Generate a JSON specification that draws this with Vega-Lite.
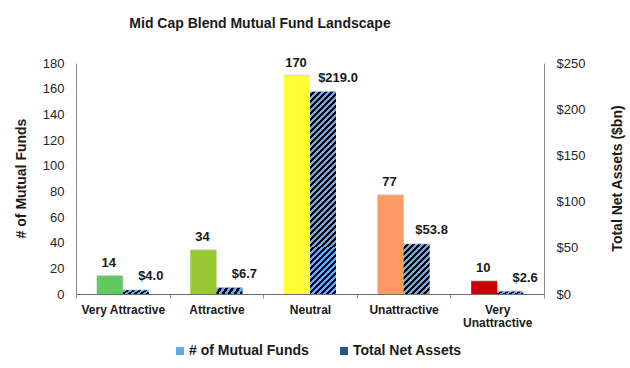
{
  "$schema": "https://vega.github.io/schema/vega-lite/v6.json",
  "width": 468,
  "height": 231,
  "autosize": "none",
  "padding": {"left": 76, "top": 63, "right": 86, "bottom": 74},
  "config": {
    "font": "Liberation Sans",
    "view": {"stroke": null},
    "axis": {"grid": false, "domainColor": "#8c8c8c", "tickColor": "#8c8c8c", "labelColor": "#262626", "titleColor": "#1a1a1a"}
  },
  "title": {
    "text": "Mid Cap Blend Mutual Fund Landscape",
    "fontSize": 14,
    "fontWeight": "bold",
    "color": "#1a1a1a",
    "anchor": "middle",
    "frame": "group",
    "baseline": "bottom",
    "offset": 12,
    "dx": -50
  },
  "data": {
    "values": [
      {"category": "Very Attractive", "series": "# of Mutual Funds", "value": 14},
      {"category": "Attractive", "series": "# of Mutual Funds", "value": 34},
      {"category": "Neutral", "series": "# of Mutual Funds", "value": 170},
      {"category": "Unattractive", "series": "# of Mutual Funds", "value": 77},
      {"category": "Very Unattractive", "series": "# of Mutual Funds", "value": 10},
      {"category": "Very Attractive", "series": "Total Net Assets", "value": 4.0},
      {"category": "Attractive", "series": "Total Net Assets", "value": 6.7},
      {"category": "Neutral", "series": "Total Net Assets", "value": 219.0},
      {"category": "Unattractive", "series": "Total Net Assets", "value": 53.8},
      {"category": "Very Unattractive", "series": "Total Net Assets", "value": 2.6}
    ]
  },
  "encoding": {
    "x": {
      "field": "category",
      "type": "nominal",
      "sort": ["Very Attractive", "Attractive", "Neutral", "Unattractive", "Very Unattractive"],
      "scale": {"paddingInner": 0, "paddingOuter": 0},
      "axis": {
        "title": null,
        "labelAngle": 0,
        "labelFontSize": 12,
        "labelFontWeight": "bold",
        "labelColor": "#1a1a1a",
        "labelPadding": 6,
        "labelBaseline": "top",
        "labelLineHeight": 13,
        "tickBand": "extent",
        "tickSize": 4,
        "domainColor": "#6e6e6e",
        "labelExpr": "datum.label == 'Very Unattractive' ? ['Very', 'Unattractive'] : datum.label"
      }
    },
    "xOffset": {
      "field": "series",
      "type": "nominal",
      "sort": ["# of Mutual Funds", "Total Net Assets"],
      "scale": {"domain": ["# of Mutual Funds", "Total Net Assets"], "paddingOuter": 0.8, "paddingInner": 0}
    }
  },
  "layer": [
    {
      "transform": [{"filter": "datum.series === '# of Mutual Funds'"}],
      "encoding": {
        "y": {
          "field": "value",
          "type": "quantitative",
          "scale": {"domain": [0, 180], "nice": false},
          "axis": {
            "orient": "left",
            "values": [0, 20, 40, 60, 80, 100, 120, 140, 160, 180],
            "ticks": false,
            "labelPadding": 12,
            "labelFontSize": 13,
            "title": "# of Mutual Funds",
            "titleFontSize": 14,
            "titleFontWeight": "bold",
            "titleAngle": -90,
            "titleX": -55,
            "titleY": 115,
            "titleAlign": "center",
            "titleBaseline": "middle"
          }
        }
      },
      "layer": [
        {"mark": {"type": "bar", "color": "#a8a8a8", "opacity": 0.5, "xOffset": 3, "yOffset": -1}},
        {
          "mark": {"type": "bar"},
          "encoding": {
            "color": {
              "field": "category",
              "type": "nominal",
              "scale": {
                "domain": ["Very Attractive", "Attractive", "Neutral", "Unattractive", "Very Unattractive"],
                "range": ["#62c962", "#99c832", "#ffff33", "#ff9966", "#cc0000"]
              },
              "legend": null
            }
          }
        },
        {
          "mark": {"type": "text", "fontSize": 13, "fontWeight": "bold", "color": "#1a1a1a", "baseline": "alphabetic", "dy": -9, "dx": -1},
          "encoding": {"text": {"field": "value", "type": "quantitative", "format": "d"}}
        }
      ]
    },
    {
      "transform": [{"filter": "datum.series === 'Total Net Assets'"}],
      "encoding": {
        "y": {
          "field": "value",
          "type": "quantitative",
          "scale": {"domain": [0, 250], "nice": false},
          "axis": {
            "orient": "right",
            "values": [0, 50, 100, 150, 200, 250],
            "format": "$.0f",
            "ticks": false,
            "labelPadding": 12,
            "labelFontSize": 13,
            "title": "Total Net Assets ($bn)",
            "titleFontSize": 14,
            "titleFontWeight": "bold",
            "titleAngle": -90,
            "titleX": 73,
            "titleY": 115,
            "titleAlign": "center",
            "titleBaseline": "middle"
          }
        }
      },
      "layer": [
        {"mark": {"type": "bar", "color": "#a8a8a8", "opacity": 0.5, "xOffset": 3, "yOffset": -1}},
        {
          "mark": {"type": "bar"},
          "encoding": {
            "fill": {
              "condition": [
                {"test": "datum.category === 'Neutral'", "value": {"gradient": "linear", "x1": 0, "y1": 0, "x2": 0.1487, "y2": 1.1621, "stops": [
                  {"offset": 0, "color": "#64aaff"}, {"offset": 0.0125, "color": "#64aaff"}, {"offset": 0.0125, "color": "#000"}, {"offset": 0.025, "color": "#000"},
                  {"offset": 0.025, "color": "#64aaff"}, {"offset": 0.0375, "color": "#64aaff"}, {"offset": 0.0375, "color": "#000"}, {"offset": 0.05, "color": "#000"},
                  {"offset": 0.05, "color": "#64aaff"}, {"offset": 0.0625, "color": "#64aaff"}, {"offset": 0.0625, "color": "#000"}, {"offset": 0.075, "color": "#000"},
                  {"offset": 0.075, "color": "#64aaff"}, {"offset": 0.0875, "color": "#64aaff"}, {"offset": 0.0875, "color": "#000"}, {"offset": 0.1, "color": "#000"},
                  {"offset": 0.1, "color": "#64aaff"}, {"offset": 0.1125, "color": "#64aaff"}, {"offset": 0.1125, "color": "#000"}, {"offset": 0.125, "color": "#000"},
                  {"offset": 0.125, "color": "#64aaff"}, {"offset": 0.1375, "color": "#64aaff"}, {"offset": 0.1375, "color": "#000"}, {"offset": 0.15, "color": "#000"},
                  {"offset": 0.15, "color": "#64aaff"}, {"offset": 0.1625, "color": "#64aaff"}, {"offset": 0.1625, "color": "#000"}, {"offset": 0.175, "color": "#000"},
                  {"offset": 0.175, "color": "#64aaff"}, {"offset": 0.1875, "color": "#64aaff"}, {"offset": 0.1875, "color": "#000"}, {"offset": 0.2, "color": "#000"},
                  {"offset": 0.2, "color": "#64aaff"}, {"offset": 0.2125, "color": "#64aaff"}, {"offset": 0.2125, "color": "#000"}, {"offset": 0.225, "color": "#000"},
                  {"offset": 0.225, "color": "#64aaff"}, {"offset": 0.2375, "color": "#64aaff"}, {"offset": 0.2375, "color": "#000"}, {"offset": 0.25, "color": "#000"},
                  {"offset": 0.25, "color": "#64aaff"}, {"offset": 0.2625, "color": "#64aaff"}, {"offset": 0.2625, "color": "#000"}, {"offset": 0.275, "color": "#000"},
                  {"offset": 0.275, "color": "#64aaff"}, {"offset": 0.2875, "color": "#64aaff"}, {"offset": 0.2875, "color": "#000"}, {"offset": 0.3, "color": "#000"},
                  {"offset": 0.3, "color": "#64aaff"}, {"offset": 0.3125, "color": "#64aaff"}, {"offset": 0.3125, "color": "#000"}, {"offset": 0.325, "color": "#000"},
                  {"offset": 0.325, "color": "#64aaff"}, {"offset": 0.3375, "color": "#64aaff"}, {"offset": 0.3375, "color": "#000"}, {"offset": 0.35, "color": "#000"},
                  {"offset": 0.35, "color": "#64aaff"}, {"offset": 0.3625, "color": "#64aaff"}, {"offset": 0.3625, "color": "#000"}, {"offset": 0.375, "color": "#000"},
                  {"offset": 0.375, "color": "#64aaff"}, {"offset": 0.3875, "color": "#64aaff"}, {"offset": 0.3875, "color": "#000"}, {"offset": 0.4, "color": "#000"},
                  {"offset": 0.4, "color": "#64aaff"}, {"offset": 0.4125, "color": "#64aaff"}, {"offset": 0.4125, "color": "#000"}, {"offset": 0.425, "color": "#000"},
                  {"offset": 0.425, "color": "#64aaff"}, {"offset": 0.4375, "color": "#64aaff"}, {"offset": 0.4375, "color": "#000"}, {"offset": 0.45, "color": "#000"},
                  {"offset": 0.45, "color": "#64aaff"}, {"offset": 0.4625, "color": "#64aaff"}, {"offset": 0.4625, "color": "#000"}, {"offset": 0.475, "color": "#000"},
                  {"offset": 0.475, "color": "#64aaff"}, {"offset": 0.4875, "color": "#64aaff"}, {"offset": 0.4875, "color": "#000"}, {"offset": 0.5, "color": "#000"},
                  {"offset": 0.5, "color": "#64aaff"}, {"offset": 0.5125, "color": "#64aaff"}, {"offset": 0.5125, "color": "#000"}, {"offset": 0.525, "color": "#000"},
                  {"offset": 0.525, "color": "#64aaff"}, {"offset": 0.5375, "color": "#64aaff"}, {"offset": 0.5375, "color": "#000"}, {"offset": 0.55, "color": "#000"},
                  {"offset": 0.55, "color": "#64aaff"}, {"offset": 0.5625, "color": "#64aaff"}, {"offset": 0.5625, "color": "#000"}, {"offset": 0.575, "color": "#000"},
                  {"offset": 0.575, "color": "#64aaff"}, {"offset": 0.5875, "color": "#64aaff"}, {"offset": 0.5875, "color": "#000"}, {"offset": 0.6, "color": "#000"},
                  {"offset": 0.6, "color": "#64aaff"}, {"offset": 0.6125, "color": "#64aaff"}, {"offset": 0.6125, "color": "#000"}, {"offset": 0.625, "color": "#000"},
                  {"offset": 0.625, "color": "#64aaff"}, {"offset": 0.6375, "color": "#64aaff"}, {"offset": 0.6375, "color": "#000"}, {"offset": 0.65, "color": "#000"},
                  {"offset": 0.65, "color": "#64aaff"}, {"offset": 0.6625, "color": "#64aaff"}, {"offset": 0.6625, "color": "#000"}, {"offset": 0.675, "color": "#000"},
                  {"offset": 0.675, "color": "#64aaff"}, {"offset": 0.6875, "color": "#64aaff"}, {"offset": 0.6875, "color": "#000"}, {"offset": 0.7, "color": "#000"},
                  {"offset": 0.7, "color": "#64aaff"}, {"offset": 0.7125, "color": "#64aaff"}, {"offset": 0.7125, "color": "#000"}, {"offset": 0.725, "color": "#000"},
                  {"offset": 0.725, "color": "#64aaff"}, {"offset": 0.7375, "color": "#64aaff"}, {"offset": 0.7375, "color": "#000"}, {"offset": 0.75, "color": "#000"},
                  {"offset": 0.75, "color": "#64aaff"}, {"offset": 0.7625, "color": "#64aaff"}, {"offset": 0.7625, "color": "#000"}, {"offset": 0.775, "color": "#000"},
                  {"offset": 0.775, "color": "#64aaff"}, {"offset": 0.7875, "color": "#64aaff"}, {"offset": 0.7875, "color": "#000"}, {"offset": 0.8, "color": "#000"},
                  {"offset": 0.8, "color": "#64aaff"}, {"offset": 0.8125, "color": "#64aaff"}, {"offset": 0.8125, "color": "#000"}, {"offset": 0.825, "color": "#000"},
                  {"offset": 0.825, "color": "#64aaff"}, {"offset": 0.8375, "color": "#64aaff"}, {"offset": 0.8375, "color": "#000"}, {"offset": 0.85, "color": "#000"},
                  {"offset": 0.85, "color": "#64aaff"}, {"offset": 0.8625, "color": "#64aaff"}, {"offset": 0.8625, "color": "#000"}, {"offset": 0.875, "color": "#000"},
                  {"offset": 0.875, "color": "#64aaff"}, {"offset": 0.8875, "color": "#64aaff"}, {"offset": 0.8875, "color": "#000"}, {"offset": 0.9, "color": "#000"},
                  {"offset": 0.9, "color": "#64aaff"}, {"offset": 0.9125, "color": "#64aaff"}, {"offset": 0.9125, "color": "#000"}, {"offset": 0.925, "color": "#000"},
                  {"offset": 0.925, "color": "#64aaff"}, {"offset": 0.9375, "color": "#64aaff"}, {"offset": 0.9375, "color": "#000"}, {"offset": 0.95, "color": "#000"},
                  {"offset": 0.95, "color": "#64aaff"}, {"offset": 0.9625, "color": "#64aaff"}, {"offset": 0.9625, "color": "#000"}, {"offset": 0.975, "color": "#000"},
                  {"offset": 0.975, "color": "#64aaff"}, {"offset": 0.9875, "color": "#64aaff"}, {"offset": 0.9875, "color": "#000"}, {"offset": 1, "color": "#000"}
                ]}},
                {"test": "datum.category === 'Unattractive'", "value": {"gradient": "linear", "x1": 0, "y1": 0, "x2": 0.6153, "y2": 1.1817, "stops": [
                  {"offset": 0, "color": "#64aaff"}, {"offset": 0.04, "color": "#64aaff"}, {"offset": 0.04, "color": "#000"}, {"offset": 0.08, "color": "#000"},
                  {"offset": 0.08, "color": "#64aaff"}, {"offset": 0.12, "color": "#64aaff"}, {"offset": 0.12, "color": "#000"}, {"offset": 0.16, "color": "#000"},
                  {"offset": 0.16, "color": "#64aaff"}, {"offset": 0.2, "color": "#64aaff"}, {"offset": 0.2, "color": "#000"}, {"offset": 0.24, "color": "#000"},
                  {"offset": 0.24, "color": "#64aaff"}, {"offset": 0.28, "color": "#64aaff"}, {"offset": 0.28, "color": "#000"}, {"offset": 0.32, "color": "#000"},
                  {"offset": 0.32, "color": "#64aaff"}, {"offset": 0.36, "color": "#64aaff"}, {"offset": 0.36, "color": "#000"}, {"offset": 0.4, "color": "#000"},
                  {"offset": 0.4, "color": "#64aaff"}, {"offset": 0.44, "color": "#64aaff"}, {"offset": 0.44, "color": "#000"}, {"offset": 0.48, "color": "#000"},
                  {"offset": 0.48, "color": "#64aaff"}, {"offset": 0.52, "color": "#64aaff"}, {"offset": 0.52, "color": "#000"}, {"offset": 0.56, "color": "#000"},
                  {"offset": 0.56, "color": "#64aaff"}, {"offset": 0.6, "color": "#64aaff"}, {"offset": 0.6, "color": "#000"}, {"offset": 0.64, "color": "#000"},
                  {"offset": 0.64, "color": "#64aaff"}, {"offset": 0.68, "color": "#64aaff"}, {"offset": 0.68, "color": "#000"}, {"offset": 0.72, "color": "#000"},
                  {"offset": 0.72, "color": "#64aaff"}, {"offset": 0.76, "color": "#64aaff"}, {"offset": 0.76, "color": "#000"}, {"offset": 0.8, "color": "#000"},
                  {"offset": 0.8, "color": "#64aaff"}, {"offset": 0.84, "color": "#64aaff"}, {"offset": 0.84, "color": "#000"}, {"offset": 0.88, "color": "#000"},
                  {"offset": 0.88, "color": "#64aaff"}, {"offset": 0.92, "color": "#64aaff"}, {"offset": 0.92, "color": "#000"}, {"offset": 0.96, "color": "#000"},
                  {"offset": 0.96, "color": "#64aaff"}, {"offset": 1, "color": "#64aaff"}
                ]}},
                {"test": "true", "value": {"gradient": "linear", "x1": 0, "y1": 0, "x2": 1.1272, "y2": 0.1734, "stops": [
                  {"offset": 0, "color": "#64aaff"}, {"offset": 0.1, "color": "#64aaff"}, {"offset": 0.1, "color": "#000"}, {"offset": 0.2, "color": "#000"},
                  {"offset": 0.2, "color": "#64aaff"}, {"offset": 0.3, "color": "#64aaff"}, {"offset": 0.3, "color": "#000"}, {"offset": 0.4, "color": "#000"},
                  {"offset": 0.4, "color": "#64aaff"}, {"offset": 0.5, "color": "#64aaff"}, {"offset": 0.5, "color": "#000"}, {"offset": 0.6, "color": "#000"},
                  {"offset": 0.6, "color": "#64aaff"}, {"offset": 0.7, "color": "#64aaff"}, {"offset": 0.7, "color": "#000"}, {"offset": 0.8, "color": "#000"},
                  {"offset": 0.8, "color": "#64aaff"}, {"offset": 0.9, "color": "#64aaff"}, {"offset": 0.9, "color": "#000"}, {"offset": 1, "color": "#000"}
                ]}}
              ],
              "field": "series",
              "type": "nominal",
              "scale": {"domain": ["# of Mutual Funds", "Total Net Assets"], "range": ["#5ea8f4", "#2b5288"]},
              "legend": {
                "orient": "none",
                "legendX": 97,
                "legendY": 281,
                "direction": "horizontal",
                "title": null,
                "padding": 0,
                "symbolType": "square",
                "symbolSize": 64,
                "symbolStrokeWidth": 0,
                "labelFontSize": 14,
                "labelFontWeight": "bold",
                "labelColor": "#1a1a1a",
                "labelOffset": 2,
                "columnPadding": 28
              }
            }
          }
        },
        {
          "mark": {"type": "text", "fontSize": 13, "fontWeight": "bold", "color": "#1a1a1a", "baseline": "alphabetic", "dy": -10, "dx": 15},
          "encoding": {"text": {"field": "value", "type": "quantitative", "format": "$.1f"}}
        }
      ]
    }
  ],
  "resolve": {"scale": {"y": "independent"}}
}
